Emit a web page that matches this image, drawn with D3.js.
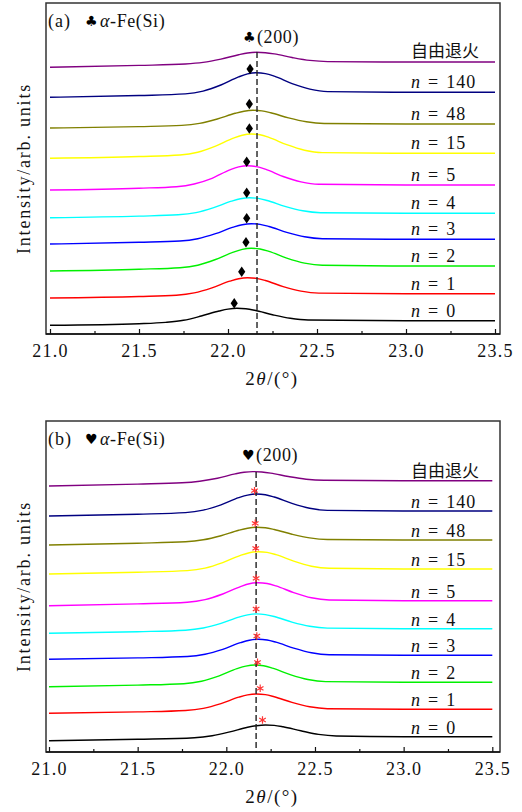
<!DOCTYPE html>
<html><head><meta charset="utf-8">
<script src="https://cdn.jsdelivr.net/npm/d3@7"></script>
<style>body{margin:0;background:#fff}svg{display:block}</style>
</head><body>
<svg id="c" width="522" height="812"></svg>
<script>
// ---- data ----
const xTicksMajor = [21.0, 21.5, 22.0, 22.5, 23.0, 23.5];
const xTicksMinor = [21.25, 21.75, 22.25, 22.75, 23.25];
const seriesLabels = ["n = 0", "n = 1", "n = 2", "n = 3", "n = 4", "n = 5", "n = 15", "n = 48", "n = 140", "自由退火"];
const seriesColors = ["#000000", "#ff0000", "#00f000", "#0000ff", "#00ffff", "#ff00ff", "#ffff00", "#808000", "#000080", "#800080"];

// panel (a): [2theta, intensity (arb.)]
const aN0 = [[21.0,8.7],[21.5,10.3],[21.65,11.6],[21.75,13.7],[21.85,18.0],[21.95,23.0],[22.0,24.9],[22.05,25.7],[22.1,25.2],[22.15,23.7],[22.25,19.3],[22.35,15.7],[22.45,14.0],[23.0,13.3],[23.5,13.3]];
const aN1 = [[21.0,36],[21.5,37.5],[21.71,38.8],[21.81,41.1],[21.91,46.1],[22.01,52.8],[22.06,55.3],[22.11,56.3],[22.16,55.6],[22.21,53.5],[22.31,47.4],[22.41,42.9],[22.51,40.9],[23.0,40.3],[23.5,40.3]];
const aN2 = [[21.0,63],[21.5,64.8],[21.73,66.3],[21.83,68.8],[21.93,74.5],[22.03,81.9],[22.08,84.6],[22.13,85.7],[22.18,85.0],[22.23,82.6],[22.33,75.9],[22.43,70.9],[22.53,68.7],[23.0,68],[23.5,68]];
const aN3 = [[21.0,90],[21.5,91.7],[21.73,93.0],[21.83,95.3],[21.93,100.3],[22.03,106.9],[22.08,109.3],[22.13,110.3],[22.18,109.6],[22.23,107.5],[22.33,101.7],[22.43,97.2],[22.53,95.3],[23.0,94.7],[23.5,94.7]];
const aN4 = [[21.0,116.3],[21.5,117.9],[21.72,119.2],[21.82,121.4],[21.92,126.4],[22.02,132.9],[22.07,135.3],[22.12,136.3],[22.17,135.6],[22.22,133.5],[22.32,127.6],[22.42,123.2],[22.52,121.3],[23.0,120.7],[23.5,120.7]];
const aN5 = [[21.0,144],[21.5,145.8],[21.71,147.3],[21.81,150.0],[21.91,155.7],[22.01,164.1],[22.06,167.1],[22.11,168.3],[22.16,167.4],[22.21,164.8],[22.31,157.5],[22.41,152.1],[22.51,149.7],[23.0,149],[23.5,149]];
const aN15 = [[21.0,175.7],[21.5,177.5],[21.73,179.0],[21.83,181.8],[21.93,187.9],[22.03,195.9],[22.08,198.8],[22.13,200.0],[22.18,199.2],[22.23,196.6],[22.33,189.3],[22.43,183.8],[22.53,181.4],[23.0,180.7],[23.5,180.7]];
const aN48 = [[21.0,206],[21.5,207.4],[21.74,208.6],[21.84,210.6],[21.94,215.0],[22.04,220.7],[22.09,222.8],[22.14,223.7],[22.19,223.1],[22.24,221.2],[22.34,216.1],[22.44,212.2],[22.54,210.5],[23.0,210],[23.5,210]];
const aN140 = [[21.0,236.7],[21.5,238.5],[21.76,240.1],[21.86,242.9],[21.96,249.0],[22.06,257.1],[22.11,260.1],[22.16,261.3],[22.21,260.4],[22.26,257.8],[22.36,250.4],[22.46,244.9],[22.56,242.4],[23.0,241.7],[23.5,241.7]];
const aFree = [[21.0,266.7],[21.5,268.6],[21.76,270.0],[21.86,271.6],[21.96,274.9],[22.06,279.3],[22.11,281.0],[22.16,281.7],[22.21,281.3],[22.26,280.1],[22.36,276.5],[22.46,273.6],[22.56,272.4],[23.0,272],[23.5,272]];

// panel (b)
const bN0 = [[21.0,11.3],[21.5,12.7],[21.82,14.3],[21.92,16.3],[22.02,20.1],[22.12,24.7],[22.17,26.3],[22.22,27.0],[22.27,26.6],[22.32,25.2],[22.42,21.2],[22.52,17.6],[22.62,16.0],[23.0,15.3],[23.5,15.3]];
const bN1 = [[21.0,38.7],[21.5,40.1],[21.77,41.5],[21.87,43.6],[21.97,48.4],[22.07,54.8],[22.12,57.1],[22.17,58.0],[22.22,57.4],[22.27,55.3],[22.37,49.6],[22.47,45.2],[22.57,43.3],[23.0,42.7],[23.5,42.7]];
const bN2 = [[21.0,65.3],[21.5,66.9],[21.76,68.3],[21.86,70.8],[21.96,76.2],[22.06,83.3],[22.11,85.9],[22.16,87.0],[22.21,86.2],[22.26,83.9],[22.36,77.4],[22.46,72.5],[22.56,70.4],[23.0,69.7],[23.5,69.7]];
const bN3 = [[21.0,92.7],[21.5,94.1],[21.78,95.5],[21.88,97.8],[21.98,102.7],[22.08,109.3],[22.13,111.7],[22.18,112.7],[22.23,112.0],[22.28,109.8],[22.38,103.9],[22.48,99.3],[22.58,97.3],[23.0,96.7],[23.5,96.7]];
const bN4 = [[21.0,118.7],[21.5,120.3],[21.77,121.8],[21.87,124.0],[21.97,128.6],[22.07,134.8],[22.12,137.1],[22.17,138.1],[22.22,137.4],[22.27,135.5],[22.37,129.9],[22.47,125.7],[22.57,123.9],[23.0,123.3],[23.5,123.3]];
const bN5 = [[21.0,146.3],[21.5,148.1],[21.78,149.8],[21.88,152.4],[21.98,158.0],[22.08,165.4],[22.13,168.2],[22.18,169.3],[22.23,168.5],[22.28,166.1],[22.38,159.4],[22.48,154.2],[22.58,152.0],[23.0,151.3],[23.5,151.3]];
const bN15 = [[21.0,178],[21.5,179.8],[21.78,181.4],[21.88,183.9],[21.98,189.4],[22.08,196.6],[22.13,199.2],[22.18,200.3],[22.23,199.6],[22.28,197.3],[22.38,190.8],[22.48,185.8],[22.58,183.7],[23.0,183],[23.5,183]];
const bN48 = [[21.0,207],[21.5,208.8],[21.77,210.2],[21.87,212.2],[21.97,216.3],[22.07,221.8],[22.12,223.8],[22.17,224.7],[22.22,224.2],[22.27,222.5],[22.37,217.8],[22.47,214.1],[22.57,212.5],[23.0,212],[23.5,212]];
const bN140 = [[21.0,236],[21.5,237.8],[21.77,239.4],[21.87,241.9],[21.97,247.2],[22.07,254.3],[22.12,256.9],[22.17,258.0],[22.22,257.3],[22.27,255.0],[22.37,248.6],[22.47,243.7],[22.57,241.6],[23.0,241],[23.5,241]];
const bFree = [[21.0,266],[21.5,267.9],[21.75,269.2],[21.85,270.8],[21.95,273.7],[22.05,278.1],[22.1,279.7],[22.15,280.4],[22.2,280.0],[22.25,278.9],[22.35,275.5],[22.45,272.8],[22.55,271.7],[23.0,271.3],[23.5,271.3]];

// peak markers
const diamondsA = [[22.035,30.7],[22.077,62.3],[22.101,91.7],[22.105,115.7],[22.105,141.3],[22.105,172.3],[22.12,205.5],[22.12,230],[22.124,265]];
const asterisksB = [[22.204,32],[22.191,63.7],[22.176,89.7],[22.172,116],[22.168,143],[22.168,173.7],[22.166,203.7],[22.163,228.7],[22.159,261.3]];
// reference (200) position dashed line: [2theta, top intensity]
const refLineA = [22.163, 282];
const refLineB = [22.168, 280];

// ---- drawing ----
const svg = d3.select("#c");
const FONT = "'Liberation Serif', 'Times New Roman', serif";
const CJK = "'Noto Sans CJK SC', sans-serif";
const SYM = "'DejaVu Sans', sans-serif";

const panels = [
  {tag: "(a)", sym: "\u2663", top: 3, bottom: 334, xr: [50, 495], curves: [aN0,aN1,aN2,aN3,aN4,aN5,aN15,aN48,aN140,aFree],
   markers: diamondsA, mtype: "diamond", ref: refLineA, labOff: 4},
  {tag: "(b)", sym: "\u2665", top: 421, bottom: 752, xr: [49, 492.3], curves: [bN0,bN1,bN2,bN3,bN4,bN5,bN15,bN48,bN140,bFree],
   markers: asterisksB, mtype: "asterisk", ref: refLineB, labOff: 3}
];

panels.forEach(p => {
  const g = svg.append("g");
  const x = d3.scaleLinear().domain([21, 23.5]).range(p.xr);
  const y = d3.scaleLinear().domain([0, 331]).range([p.bottom, p.top]);

  // curves
  const line = d3.line().x(d => x(d[0])).y(d => y(d[1])).curve(d3.curveMonotoneX);
  p.curves.forEach((c, i) => {
    g.append("path").attr("d", line(c)).attr("fill", "none")
      .attr("stroke", seriesColors[i]).attr("stroke-width", 1.4);
  });

  // dashed reference line
  g.append("line").attr("x1", x(p.ref[0])).attr("x2", x(p.ref[0]))
    .attr("y1", y(p.ref[1])).attr("y2", y(0))
    .attr("stroke", "#222").attr("stroke-width", 1.4).attr("stroke-dasharray", "6,3");

  // markers
  p.markers.forEach(m => {
    const mg = g.append("g").attr("transform", `translate(${x(m[0])},${y(m[1])})`);
    if (p.mtype === "diamond") {
      mg.append("path").attr("d", "M0,-5.2L3.6,0L0,5.2L-3.6,0Z").attr("fill", "#000");
    } else {
      mg.append("path").attr("d", "M0,-3.8L0,3.8M-3.3,-1.9L3.3,1.9M-3.3,1.9L3.3,-1.9")
        .attr("stroke", "#ff3535").attr("stroke-width", 1.2).attr("fill", "none");
    }
  });

  // series labels
  p.curves.forEach((c, i) => {
    const ly = y(c[c.length - 1][1]) - p.labOff;
    const lab = seriesLabels[i];
    if (lab.startsWith("n")) {
      const t = g.append("text").attr("x", 411).attr("y", ly)
        .attr("font-family", FONT).attr("font-size", 18).attr("letter-spacing", 1).attr("fill", "#111");
      const parts = lab.split(" = ");
      t.append("tspan").attr("font-style", "italic").text("n");
      t.append("tspan").attr("dx", 7).text("=");
      t.append("tspan").attr("dx", 7).text(parts[1]);
    } else {
      g.append("text").attr("x", 411).attr("y", ly - 1)
        .attr("font-family", CJK).attr("font-size", 17).attr("fill", "#111").text(lab);
    }
  });

  // frame
  g.append("rect").attr("x", 46).attr("y", p.top).attr("width", 454).attr("height", p.bottom - p.top)
    .attr("fill", "none").attr("stroke", "#333").attr("stroke-width", 1.5);

  // x axis (ticks inside)
  const axMinor = d3.axisBottom(x).tickValues(xTicksMinor).tickSizeInner(-3).tickSizeOuter(0).tickFormat("");
  const axMajor = d3.axisBottom(x).tickValues(xTicksMajor).tickSizeInner(-5).tickSizeOuter(0).tickFormat(d3.format(".1f"));
  [axMinor, axMajor].forEach(ax => {
    const a = g.append("g").attr("transform", `translate(0,${p.bottom})`).call(ax);
    a.select(".domain").remove();
    a.selectAll("line").attr("stroke", "#111").attr("stroke-width", 1.2);
    a.selectAll("text").attr("dy", null).attr("y", 23).attr("font-family", FONT)
      .attr("font-size", 18).attr("letter-spacing", 1.2).attr("fill", "#111");
  });
  g.append("line").attr("x1", 46).attr("x2", 500).attr("y1", p.bottom).attr("y2", p.bottom)
    .attr("stroke", "#111").attr("stroke-width", 1.5);

  // x title
  const xt = g.append("text").attr("x", 272).attr("y", p.bottom + 51).attr("text-anchor", "middle")
    .attr("font-family", FONT).attr("font-size", 19).attr("letter-spacing", 1.5).attr("fill", "#111");
  xt.append("tspan").text("2");
  xt.append("tspan").attr("font-style", "italic").text("\u03B8");
  xt.append("tspan").text("/(\u00B0)");

  // y title
  g.append("text").attr("transform", `translate(30,${(p.top + p.bottom) / 2}) rotate(-90)`)
    .attr("text-anchor", "middle").attr("font-family", FONT).attr("font-size", 18)
    .attr("letter-spacing", 1.8).attr("fill", "#111").text("Intensity/arb. units");

  // panel tag
  g.append("text").attr("x", 48).attr("y", p.top + 24).attr("font-family", FONT).attr("font-size", 18)
    .attr("letter-spacing", 1).attr("fill", "#111").text(p.tag);
  g.append("text").attr("x", 85).attr("y", p.top + 23).attr("font-family", SYM)
    .attr("font-size", 14).attr("fill", "#000").text(p.sym);
  const ft = g.append("text").attr("x", 100).attr("y", p.top + 24).attr("font-family", FONT)
    .attr("font-size", 18).attr("letter-spacing", 0.6).attr("fill", "#111");
  ft.append("tspan").attr("font-style", "italic").text("\u03B1");
  ft.append("tspan").text("-Fe(Si)");

  // (200) annotation
  const px = x(p.ref[0]) - 14;
  g.append("text").attr("x", px).attr("y", p.top + 39).attr("font-family", SYM)
    .attr("font-size", 14).attr("fill", "#000").text(p.sym);
  g.append("text").attr("x", px + 14).attr("y", p.top + 40).attr("font-family", FONT)
    .attr("font-size", 18).attr("letter-spacing", 0.6).attr("fill", "#111").text("(200)");
});
</script>
</body></html>
